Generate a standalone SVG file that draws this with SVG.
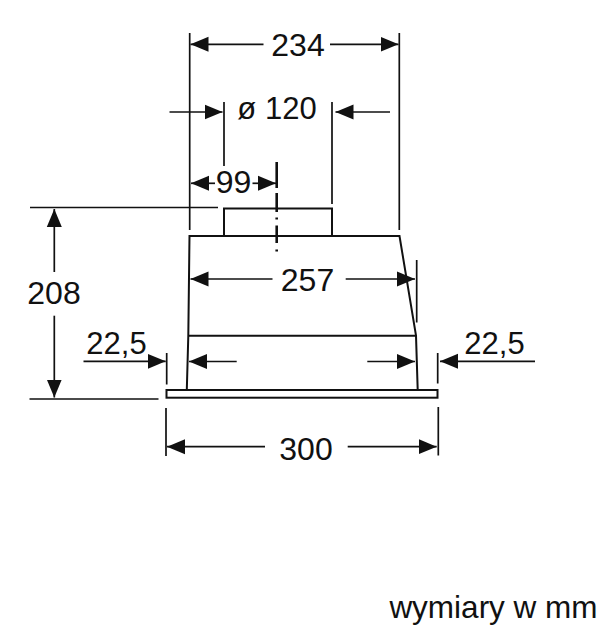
<svg xmlns="http://www.w3.org/2000/svg" width="610" height="630" viewBox="0 0 610 630">
<style>
text{font-family:"Liberation Sans",Arial,sans-serif;font-size:32px;fill:#111;text-anchor:middle}
.s{font-size:31px}
.l{stroke:#111;stroke-width:2;fill:none}
.c{stroke:#111;stroke-width:2.600;fill:none}
.e{stroke:#111;stroke-width:1.700;fill:none}
.a{stroke:#111;stroke-width:1.700;fill:none;marker-end:url(#ah)}
</style>
<defs>
<marker id="ah" markerUnits="userSpaceOnUse" markerWidth="19" markerHeight="16" refX="18" refY="8" orient="auto"><path d="M0 0.500L18 8L0 15.500Z" fill="#111"/></marker>
</defs>
<rect width="610" height="630" fill="#fff"/>
<g id="housing">
<path class="l" d="M224 236V208.500H332V236"/>
<path class="l" d="M186.800 390L188.300 335.700L189.500 236H399.500L416 335.700L417.700 390"/>
<path class="l" d="M188.300 335.700H416"/>
<rect class="l" x="166.500" y="390" width="271" height="7.700"/>
</g>
<g id="connectors">
<path class="e" d="M189.700 33V230M399.300 33V230M224 102V166M332 102V204M30 207.500H218M29.500 399H158.500M166.700 353V384.500M437.700 353V383.500M166 408V456M438.300 407V455.500M416.700 260V322.500"/>
<path class="c" d="M276.700 162V188M276.700 193V212M276.700 225.500V243M276.700 217.500V219.500M276.700 249.500V251.500"/>
<path class="a" d="M263.500 44.300H190.500"/>
<path class="a" d="M330 44.300H398.500"/>
<path class="a" d="M169.500 112H222.500"/>
<path class="a" d="M390 112H335.500"/>
<path class="a" d="M215 183.300H191"/>
<path class="a" d="M252.500 183.300H276"/>
<path class="a" d="M272.500 279H190.500"/>
<path class="a" d="M345.700 279H415"/>
<path class="a" d="M236.700 361.500H189"/>
<path class="a" d="M367.300 361.500H415"/>
<path class="a" d="M83.500 361.300H165.700"/>
<path class="a" d="M535 361.300H440"/>
<path class="a" d="M265 446.700H167"/>
<path class="a" d="M347.700 446.700H436.700"/>
<path class="a" d="M54.300 272V209"/>
<path class="a" d="M54.300 315.700V397.500"/>
</g>
<g id="labels">
<text x="298" y="56">234</text>
<text class="s" x="277" y="119">ø 120</text>
<text x="233.500" y="193">99</text>
<text x="307.500" y="291">257</text>
<text x="54" y="304">208</text>
<text class="s" x="116.500" y="354">22,5</text>
<text class="s" x="494.500" y="354">22,5</text>
<text x="306" y="460">300</text>
<text class="s" x="493.500" y="618" style="font-size:31.500px">wymiary w mm</text>
</g>
</svg>
